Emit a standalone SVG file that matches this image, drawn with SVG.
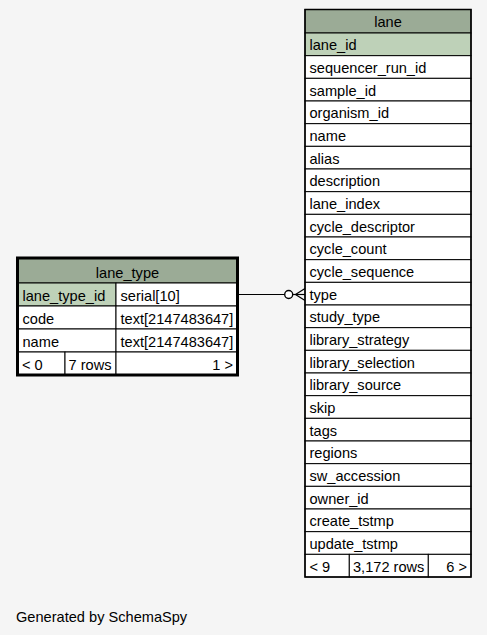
<svg xmlns="http://www.w3.org/2000/svg" width="487" height="635" viewBox="0 0 487 635">
<style>
text{font-family:"Liberation Sans",Arial,Helvetica,sans-serif;font-size:14.6px;fill:#000}
.c{text-anchor:middle}
.r{text-anchor:end}
.hd{fill:#9bab96;stroke:#000;stroke-width:1}
.pk{fill:#bed1b8;stroke:#000;stroke-width:1}
.row{fill:#fff;stroke:#000;stroke-width:1}
.ln{stroke:#000;stroke-width:1.2;fill:none}
</style>
<rect x="0" y="0" width="487" height="635" fill="#f5f5f5"/>
<g id="connectors">
<line class="ln" x1="239" y1="294.5" x2="284.7" y2="294.5"/>
<circle cx="288.7" cy="294.5" r="4" fill="#fff" stroke="#000" stroke-width="1.4"/>
<line class="ln" x1="292.7" y1="294.5" x2="305" y2="294.5"/>
<path class="ln" d="M305,288.5 L295.5,294.5 L305,300.5" stroke-width="1.6"/>
</g>
<g id="lane">
<rect class="hd" x="305" y="9.5" width="166" height="23.5"/>
<text class="c" x="388" y="27.3">lane</text>
<rect class="pk" x="305" y="33" width="166" height="22.67"/>
<text x="309.5" y="50.3">lane_id</text>
<rect class="row" x="305" y="55.67" width="166" height="22.67"/><text x="309.5" y="73">sequencer_run_id</text>
<rect class="row" x="305" y="78.33" width="166" height="22.67"/><text x="309.5" y="95.7">sample_id</text>
<rect class="row" x="305" y="101" width="166" height="22.67"/><text x="309.5" y="118.3">organism_id</text>
<rect class="row" x="305" y="123.67" width="166" height="22.67"/><text x="309.5" y="141">name</text>
<rect class="row" x="305" y="146.33" width="166" height="22.67"/><text x="309.5" y="163.7">alias</text>
<rect class="row" x="305" y="169" width="166" height="22.67"/><text x="309.5" y="186.3">description</text>
<rect class="row" x="305" y="191.67" width="166" height="22.67"/><text x="309.5" y="209">lane_index</text>
<rect class="row" x="305" y="214.33" width="166" height="22.67"/><text x="309.5" y="231.7">cycle_descriptor</text>
<rect class="row" x="305" y="237" width="166" height="22.67"/><text x="309.5" y="254.3">cycle_count</text>
<rect class="row" x="305" y="259.67" width="166" height="22.67"/><text x="309.5" y="277">cycle_sequence</text>
<rect class="row" x="305" y="282.33" width="166" height="22.67"/><text x="309.5" y="299.7">type</text>
<rect class="row" x="305" y="305" width="166" height="22.67"/><text x="309.5" y="322.3">study_type</text>
<rect class="row" x="305" y="327.67" width="166" height="22.67"/><text x="309.5" y="345">library_strategy</text>
<rect class="row" x="305" y="350.33" width="166" height="22.67"/><text x="309.5" y="367.7">library_selection</text>
<rect class="row" x="305" y="373" width="166" height="22.67"/><text x="309.5" y="390.3">library_source</text>
<rect class="row" x="305" y="395.67" width="166" height="22.67"/><text x="309.5" y="413">skip</text>
<rect class="row" x="305" y="418.33" width="166" height="22.67"/><text x="309.5" y="435.7">tags</text>
<rect class="row" x="305" y="441" width="166" height="22.67"/><text x="309.5" y="458.3">regions</text>
<rect class="row" x="305" y="463.67" width="166" height="22.67"/><text x="309.5" y="481">sw_accession</text>
<rect class="row" x="305" y="486.33" width="166" height="22.67"/><text x="309.5" y="503.7">owner_id</text>
<rect class="row" x="305" y="509" width="166" height="22.67"/><text x="309.5" y="526.3">create_tstmp</text>
<rect class="row" x="305" y="531.67" width="166" height="22.67"/><text x="309.5" y="549">update_tstmp</text>
<rect class="row" x="305" y="554.33" width="44.3" height="22.67"/><text x="309.5" y="571.7">&lt; 9</text>
<rect class="row" x="349.3" y="554.33" width="79" height="22.67"/><text x="353" y="571.7">3,172 rows</text>
<rect class="row" x="428.3" y="554.33" width="42.7" height="22.67"/><text class="r" x="467" y="571.7">6 &gt;</text>
<rect x="305" y="9.5" width="166" height="567.5" fill="none" stroke="#000" stroke-width="1.5"/>
</g>
<g id="lane_type">
<rect class="hd" x="17.5" y="258" width="220" height="25"/>
<text class="c" x="127.5" y="278.3">lane_type</text>
<rect class="pk" x="17.5" y="283" width="98.5" height="23"/><text x="22.5" y="300.6">lane_type_id</text>
<rect class="row" x="116" y="283" width="121.5" height="23"/><text x="120.5" y="300.6">serial[10]</text>
<rect class="row" x="17.5" y="306" width="98.5" height="23"/><text x="22.5" y="323.6">code</text>
<rect class="row" x="116" y="306" width="121.5" height="23"/><text x="120.5" y="323.6">text[2147483647]</text>
<rect class="row" x="17.5" y="329" width="98.5" height="23"/><text x="22.5" y="346.6">name</text>
<rect class="row" x="116" y="329" width="121.5" height="23"/><text x="120.5" y="346.6">text[2147483647]</text>
<rect class="row" x="17.5" y="352" width="47.5" height="23"/><text x="22" y="369.6">&lt; 0</text>
<rect class="row" x="65" y="352" width="51" height="23"/><text x="68.5" y="369.6">7 rows</text>
<rect class="row" x="116" y="352" width="121.5" height="23"/><text class="r" x="233" y="369.6">1 &gt;</text>
<rect x="17.5" y="258" width="220" height="117" fill="none" stroke="#000" stroke-width="3"/>
</g>
<text x="16" y="622">Generated by SchemaSpy</text>
</svg>
